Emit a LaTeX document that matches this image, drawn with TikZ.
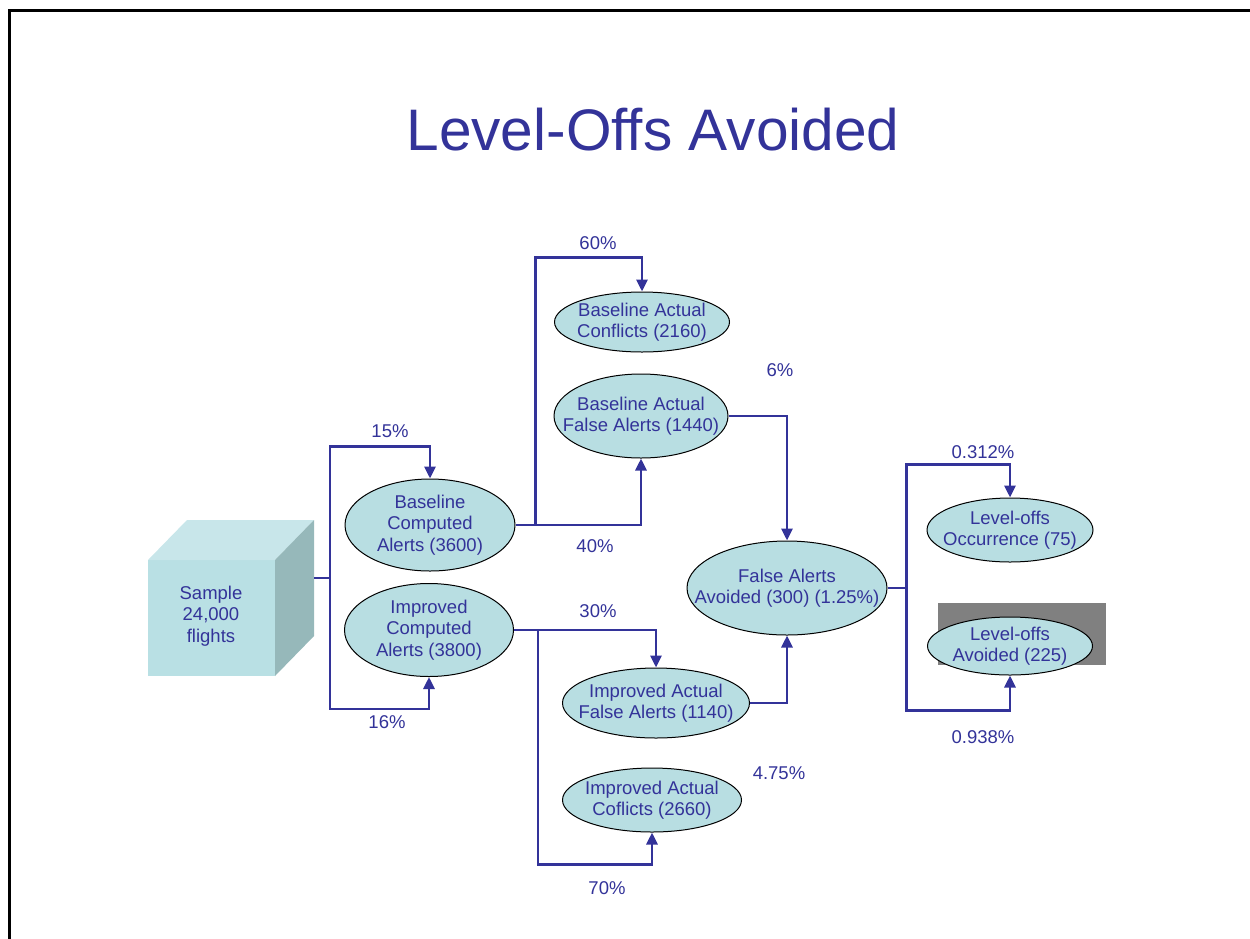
\documentclass[tikz,border=0pt]{standalone}
\usepackage{fontspec}
\setmainfont{Liberation Sans}
\usetikzlibrary{shapes.geometric,arrows.meta,calc}
\definecolor{ink}{RGB}{51,51,153}
\definecolor{bubble}{RGB}{184,222,226}
\definecolor{cubefront}{RGB}{185,224,228}
\definecolor{cubetop}{RGB}{200,230,234}
\definecolor{cubeside}{RGB}{150,184,186}
\definecolor{patchgrey}{RGB}{128,128,128}
\begin{document}
\begin{tikzpicture}[x=1pt,y=-1pt,
  txt/.style={text=ink,font=\fontsize{18.5}{21.5}\selectfont,align=center,inner sep=0pt},
  bub/.style={ellipse,draw=black,line width=1pt,fill=bubble,inner sep=0pt},
  flow/.style={draw=ink,line width=2.9pt},
  arr/.style={flow,-{Triangle[length=12pt,width=11pt]}},
  pct/.style={txt}]
\useasboundingbox (0,0) rectangle (1250,938);
% frame
\draw[line width=2.6pt] (9.5,940) -- (9.5,10.5) -- (1252,10.5);
% title
\node[text=ink,font=\fontsize{58.6}{62}\selectfont,inner sep=0pt] (title) at (653,130) {Level-Offs Avoided};

% sample cube
\fill[cubefront] (148,560) rectangle (275,676);
\fill[cubetop] (148,560) -- (187,520) -- (314,520) -- (275,560) -- cycle;
\fill[cubeside] (275,560) -- (314,520) -- (314,636) -- (275,676) -- cycle;
\node[txt] (sample) at (211,616) {Sample\\24,000\\flights};
\coordinate (s) at (314,578);

% shaded patch behind the avoided level-offs
\fill[patchgrey] (938,603) rectangle (1106,665);

% outcome bubbles (fixed size, text placed at the centre)
\node[bub,minimum width=170pt,minimum height=92pt,label={[txt]center:{Baseline\\Computed\\Alerts (3600)}}] (bca) at (430,525) {};
\node[bub,minimum width=169pt,minimum height=93pt,label={[txt]center:{Improved\\Computed\\Alerts (3800)}}] (ica) at (429,630) {};
\node[bub,minimum width=175pt,minimum height=60pt,label={[txt]center:{Baseline Actual\\Conflicts (2160)}}] (bac) at (642,322) {};
\node[bub,minimum width=174pt,minimum height=84pt,label={[txt]center:{Baseline Actual\\False Alerts (1440)}}] (bafa) at (641,416) {};
\node[bub,minimum width=187pt,minimum height=70pt,label={[txt]center:{Improved Actual\\False Alerts (1140)}}] (iafa) at (656,703) {};
\node[bub,minimum width=179pt,minimum height=64pt,label={[txt]center:{Improved Actual\\Coflicts (2660)}}] (iac) at (652,800) {};
\node[bub,minimum width=200pt,minimum height=94pt,label={[txt]center:{False Alerts\\Avoided (300) (1.25\%)}}] (fa) at (787,588) {};
\node[bub,minimum width=166pt,minimum height=64pt,label={[txt]center:{Level-offs\\Occurrence (75)}}] (loo) at (1010,530) {};
\node[bub,minimum width=165pt,minimum height=58pt,label={[txt]center:{Level-offs\\Avoided (225)}}] (loa) at (1010,646) {};

% branch junctions
\coordinate (sj) at ($(s)+(16,0)$);
\coordinate (bj) at ($(bca.east)+(20,0)$);
\coordinate (ij) at ($(ica.east)+(24,0)$);
\coordinate (fj) at ($(fa.east)+(19,0)$);

% connectors
\draw[flow] (s) -- (sj);
\draw[arr] (sj) |- ($(bca.north)+(0,-32)$) -- (bca.north);
\draw[arr] (sj) |- ($(ica.south)+(0,32)$) -- (ica.south);
\draw[arr] (bca.east) -| (bafa.south);
\draw[arr] (bj) |- ($(bac.north)+(0,-34)$) -- (bac.north);
\draw[arr] (ica.east) -| (iafa.north);
\draw[arr] (ij) |- ($(iac.south)+(0,32)$) -- (iac.south);
\draw[arr] (bafa.east) -| (fa.north);
\draw[arr] (iafa.east) -| (fa.south);
\draw[flow] (fa.east) -- (fj);
\draw[arr] (fj) |- ($(loo.north)+(0,-33)$) -- (loo.north);
\draw[arr] (fj) |- ($(loa.south)+(0,35)$) -- (loa.south);

% branch fractions
\node[pct] (p15) at (390,431) {15\%};
\node[pct] (p16) at (387,722) {16\%};
\node[pct] (p60) at (598,243) {60\%};
\node[pct] (p40) at (595,546) {40\%};
\node[pct] (p6) at (780,370) {6\%};
\node[pct] (p30) at (598,611) {30\%};
\node[pct] (p70) at (607,888) {70\%};
\node[pct] (p475) at (779,773) {4.75\%};
\node[pct] (p312) at (983,452) {0.312\%};
\node[pct] (p938) at (983,737) {0.938\%};
\end{tikzpicture}
\end{document}
